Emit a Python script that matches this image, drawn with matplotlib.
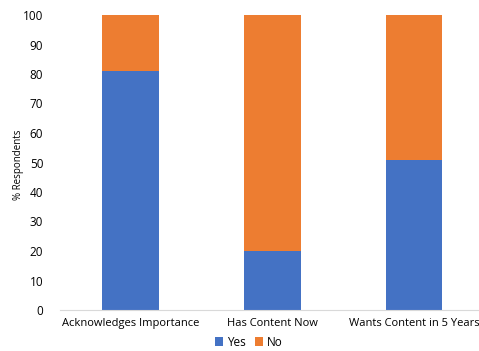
import numpy as np
import matplotlib
matplotlib.use("Agg")
import matplotlib.pyplot as plt

plt.rcParams["font.family"] = ["Open Sans", "DejaVu Sans"]

categories = ["Acknowledges Importance", "Has Content Now", "Wants Content in 5 Years"]
yes_vals = [81, 20, 51]
no_vals = [19, 80, 49]
yticks = list(range(0, 101, 10))

BLUE = "#4472C4"
ORANGE = "#ED7D31"

fig = plt.figure(figsize=(4.79, 3.51), dpi=100)
ax = fig.add_axes([60 / 479, 1 - 310 / 351, 1 - 60 / 479, (310 - 15) / 351])

x = np.arange(len(categories))
ax.bar(x, yes_vals, width=0.4, color=BLUE, label="Yes")
ax.bar(x, no_vals, width=0.4, bottom=yes_vals, color=ORANGE, label="No")

ax.set_ylim(0, 100)
ax.set_xlim(-0.5, 2.46)
ax.set_yticks(yticks)
ax.set_yticklabels([str(t) for t in yticks], fontsize=8.5)
ax.set_xticks(x)
ax.set_xticklabels(categories, fontsize=8)
ax.tick_params(axis="both", length=0, pad=12)
ax.tick_params(axis="x", pad=6)

for s in ["top", "right", "left"]:
    ax.spines[s].set_visible(False)
ax.spines["bottom"].set_color("#d9d9d9")
ax.spines["bottom"].set_linewidth(0.8)

fig.text(18 / 479, 1 - 165 / 351, "% Respondents", rotation=90,
         ha="center", va="center", fontsize=7)

fig.legend(loc="center", bbox_to_anchor=(249 / 479, 1 - 342 / 351),
           ncol=2, frameon=False, fontsize=8.5, handlelength=0.7,
           handleheight=0.7, handletextpad=0.3, columnspacing=0.8,
           borderpad=0)

fig.savefig("out.png", dpi=100)
plt.close(fig)
